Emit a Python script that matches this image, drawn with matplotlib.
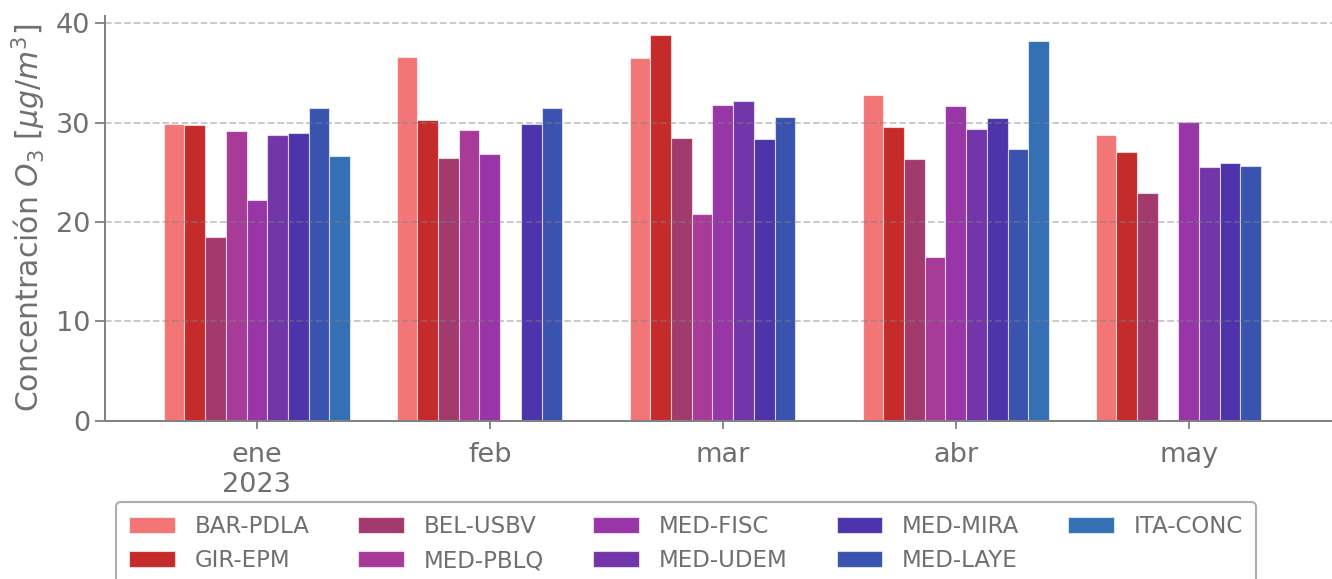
import numpy as np
import matplotlib
matplotlib.use("Agg")
import matplotlib.pyplot as plt

# monthly mean O3 per station (nan = no data)
months = ["ene\n2023", "feb", "mar", "abr", "may"]
stations = ["BAR-PDLA", "GIR-EPM", "BEL-USBV", "MED-PBLQ", "MED-FISC",
            "MED-UDEM", "MED-MIRA", "MED-LAYE", "ITA-CONC"]
nan = np.nan
bar_pdla = [29.9, 36.6, 36.5, 32.8, 28.8]
gir_epm = [29.8, 30.3, 38.8, 29.6, 27.1]
bel_usbv = [18.5, 26.5, 28.5, 26.4, 22.9]
med_pblq = [29.2, 29.3, 20.8, 16.5, nan]
med_fisc = [22.2, 26.9, 31.8, 31.7, 30.1]
med_udem = [28.8, nan, 32.2, 29.4, 25.5]
med_mira = [29.0, 29.9, 28.4, 30.5, 25.9]
med_laye = [31.5, 31.5, 30.6, 27.4, 25.6]
ita_conc = [26.7, nan, nan, 38.2, nan]
series = [bar_pdla, gir_epm, bel_usbv, med_pblq, med_fisc,
          med_udem, med_mira, med_laye, ita_conc]
colors = ["#F37676", "#C62B2C", "#A33A6E", "#A83A98", "#9836A8",
          "#7236AA", "#4E34AA", "#3953AE", "#3570B5"]

txt = "#6f6f6f"
plt.rcParams["font.family"] = "DejaVu Sans"
plt.rcParams["font.size"] = 19.5

fig = plt.figure(figsize=(13.32, 5.79), dpi=100)
ax = fig.add_axes([105/1332, (579-420.7)/579, (1332-105)/1332, (420.7-16)/579])

n = len(series)
w = 0.8 / n
x = np.arange(len(months))
for k in range(n):
  ax.bar(x + (k - (n-1)/2) * w, series[k], width=w, color=colors[k],
         edgecolor=(1, 1, 1, 0.6), linewidth=0.8, label=stations[k], zorder=1)

ax.set_xlim(-0.652, 4.615)
ax.set_ylim(0, 40.75)
ax.set_xticks(x)
ax.set_xticklabels(months, color=txt)
ax.set_yticks([0, 10, 20, 30, 40])
ax.tick_params(axis="y", colors="#808080", labelcolor=txt, length=7, width=1.3)
ax.tick_params(axis="x", colors="#808080", labelcolor=txt, length=6, width=1.3, pad=9)
ax.grid(axis="y", ls="--", color="gray", alpha=0.45, lw=1.3, zorder=3)
ax.set_axisbelow(False)
for s in ["top", "right"]:
  ax.spines[s].set_visible(False)
for s in ["left", "bottom"]:
  ax.spines[s].set_color("#808080")
  ax.spines[s].set_linewidth(1.4)
ax.set_ylabel("Concentración $O_3$ [$\\mu g/m^3$]", color=txt, fontsize=21.5, labelpad=6)

leg = fig.legend(loc="upper center", bbox_to_anchor=(686/1332, 1 - 502/579),
                 ncol=5, fontsize=16.5, frameon=True, fancybox=True,
                 borderaxespad=0, borderpad=0.55, columnspacing=2.15,
                 handletextpad=0.85)
leg.get_frame().set_edgecolor("#999999")
leg.get_frame().set_linewidth(1.5)
for t in leg.get_texts():
  t.set_color(txt)

fig.savefig("out.png", dpi=100)
